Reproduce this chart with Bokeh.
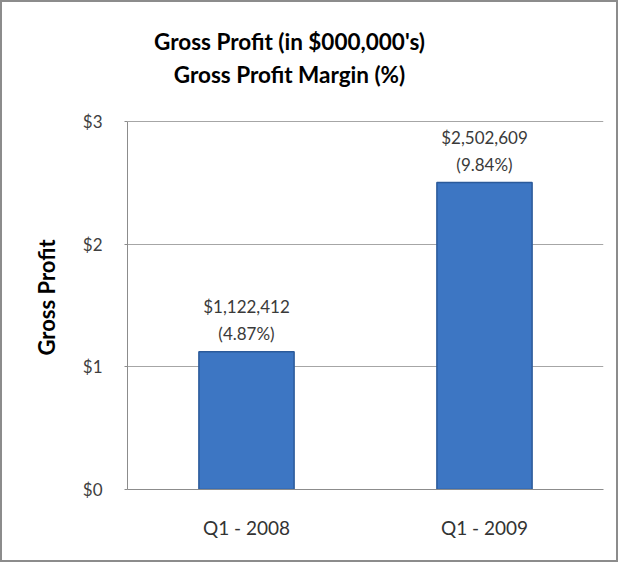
from bokeh.plotting import figure
from bokeh.models import Range1d, FixedTicker, NumeralTickFormatter, ColumnDataSource, Label, Title
from bokeh.embed import file_html
from bokeh.resources import INLINE
from bokeh.core.properties import value

categories = ["Q1 - 2008", "Q1 - 2009"]
gross_profit_dollars = [1122412, 2502609]
margin_pct = [4.87, 9.84]
y_ticks = [0, 1, 2, 3]
title_lines = ["Gross Profit (in $000,000's)", "Gross Profit Margin (%)"]
y_axis_title = "Gross Profit"

gp = [v / 1e6 for v in gross_profit_dollars]
src = ColumnDataSource(dict(
    cat=categories,
    gp=gp,
    l1=["${:,}".format(v) for v in gross_profit_dollars],
    l2=["({:.2f}%)".format(m) for m in margin_pct],
))

FONT = "Lato"
W, H = 618, 562
BL, BR, BB = 125, 17, 75
FRAME_H = H - BB            # frame extends to the top of the canvas
PX_PER_UNIT = (FRAME_H - 119) / 3.0
Y_TOP = FRAME_H / PX_PER_UNIT
frame_w = W - BL - BR

def cx(px):  # canvas x pixel -> category coordinate
    return (px - BL) / frame_w * len(categories)

def cy(py):  # canvas y pixel (from top) -> data value
    return (FRAME_H - py) / PX_PER_UNIT

p = figure(x_range=categories, y_range=Range1d(0, Y_TOP), width=W, height=H,
           output_backend="svg", toolbar_location=None,
           min_border_left=BL, min_border_right=BR, min_border_top=0, min_border_bottom=BB)
p.title.visible = False
p.styles = {"border": "2px solid #8c8c8c", "box-sizing": "border-box"}
p.outline_line_color = None
p.background_fill_color = "white"
p.border_fill_color = "white"

p.vbar(x="cat", top="gp", width=0.4, source=src, fill_color="#3D76C3",
       line_color="#2B5A9A", line_width=1.5)

p.text(x="cat", y="gp", text="l1", source=src, y_offset=-45, text_align="center",
       text_baseline="middle", text_font=value(FONT), text_font_size="17px", text_color="#3a3a3a")
p.text(x="cat", y="gp", text="l2", source=src, y_offset=-18, text_align="center",
       text_baseline="middle", text_font=value(FONT), text_font_size="17px", text_color="#3a3a3a")

p.yaxis.ticker = FixedTicker(ticks=y_ticks)
p.yaxis.bounds = (0, 3)
p.yaxis.formatter = NumeralTickFormatter(format="$0")
p.yaxis.major_label_text_font = FONT
p.yaxis.major_label_text_font_size = "17px"
p.yaxis.major_label_text_color = "#404040"
p.yaxis.major_label_standoff = 22
p.yaxis.major_tick_out = 3
p.yaxis.major_tick_in = 0
p.yaxis.minor_tick_line_color = None
p.yaxis.axis_line_color = "#8c8c8c"
p.yaxis.major_tick_line_color = "#8c8c8c"

p.xaxis.major_label_text_font = FONT
p.xaxis.major_label_text_font_size = "19px"
p.xaxis.major_label_text_color = "#333333"
p.xaxis.major_label_standoff = 20
p.xaxis.major_tick_line_color = None
p.xaxis.axis_line_color = "#8c8c8c"

p.xgrid.grid_line_color = None
p.ygrid.grid_line_color = "#a6a6a6"
p.ygrid.grid_line_width = 1

for i, t in enumerate(title_lines):
    p.add_layout(Label(x=cx(287), y=cy(39 + 33 * i), text=t, text_align="center",
                       text_baseline="middle", text_font=FONT, text_font_style="bold",
                       text_font_size="22.5px", text_color="black"))

ytitle = Title(text=y_axis_title, align="left", offset=134, standoff=40,
               text_font=FONT, text_font_style="bold", text_font_size="22px",
               text_color="black")
p.add_layout(ytitle, "left")

open("out.html", "w").write(file_html(p, INLINE))
